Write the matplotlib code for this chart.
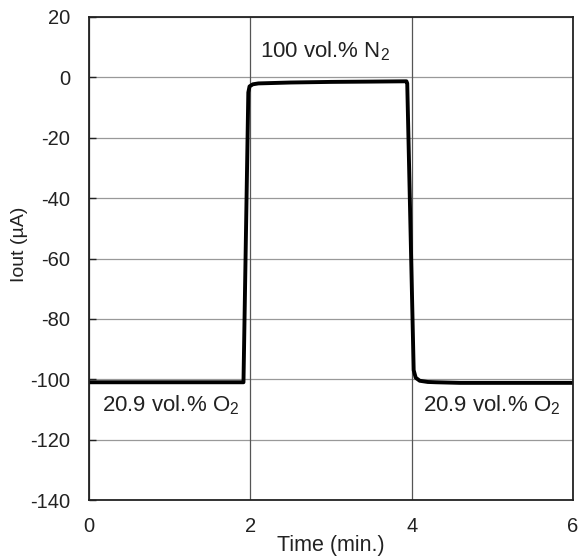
import matplotlib
matplotlib.use("Agg")
import matplotlib.pyplot as plt

plt.rcParams['font.family'] = ['Liberation Sans', 'DejaVu Sans']
plt.rcParams['mathtext.fontset'] = 'custom'
plt.rcParams['mathtext.rm'] = 'Liberation Sans'
plt.rcParams['mathtext.it'] = 'Liberation Sans'
plt.rcParams['axes.unicode_minus'] = False

# Data (Time in min, current in µA)
time = [0.0, 0.5, 1.0, 1.5, 1.85, 1.915, 1.975, 1.99, 2.03, 2.1, 2.5, 3.0, 3.5,
        3.935, 3.945, 4.025, 4.05, 4.1, 4.2, 4.3, 4.6, 5.0, 5.5, 6.0]
iout = [-101.0, -101.0, -101.0, -101.0, -101.0, -101.0, -5.0, -3.0, -2.3, -2.0,
        -1.7, -1.5, -1.4, -1.3, -2.0, -97.0, -99.5, -100.5, -100.9, -101.0,
        -101.2, -101.2, -101.2, -101.2]

xticks = [0, 2, 4, 6]
yticks = [-140, -120, -100, -80, -60, -40, -20, 0, 20]

labels = [
    (2.12, 8.8, "100 vol.% N$_{2}$"),
    (0.157, -108.5, "20.9 vol.% O$_{2}$"),
    (4.145, -108.5, "20.9 vol.% O$_{2}$"),
]

fig = plt.figure(figsize=(5.79, 5.56), dpi=100)
ax = fig.add_axes([89/579, 1-500/556, (573-89)/579, (500-17)/556])

ax.plot(time, iout, color='black', lw=2.8, solid_joinstyle='round')

ax.set_xlim(0, 6)
ax.set_ylim(-140, 20)
ax.set_xticks(xticks)
ax.set_yticks(yticks)

for y in yticks:
    ax.axhline(y, color='#999999', lw=0.9, zorder=0)
for x in xticks:
    ax.axvline(x, color='#555555', lw=0.9, zorder=0)

for s in ax.spines.values():
    s.set_linewidth(1.3)
    s.set_color('#222222')

ax.tick_params(axis='y', direction='in', length=5, width=1.0, pad=13.5, labelsize=14.5, colors='#222222')
ax.tick_params(axis='x', direction='in', length=0, pad=12, labelsize=14.5, colors='#222222')

ax.set_xlabel("Time (min.)", fontsize=15.5, color='#222222')
ax.xaxis.set_label_coords(0.5, -(546 - 500) / 483, transform=ax.transAxes)
ax.xaxis.label.set_va('center')
ax.set_ylabel("Iout (µA)", fontsize=14, color='#222222')
ax.yaxis.set_label_coords((19 - 89) / 484, (500 - 244.5) / 483, transform=ax.transAxes)
ax.yaxis.label.set_va('center')

for x, y, t in labels:
    ax.text(x, y, t, fontsize=16, ha='left', va='center', color='#222222')

fig.savefig("out.png", dpi=100)
